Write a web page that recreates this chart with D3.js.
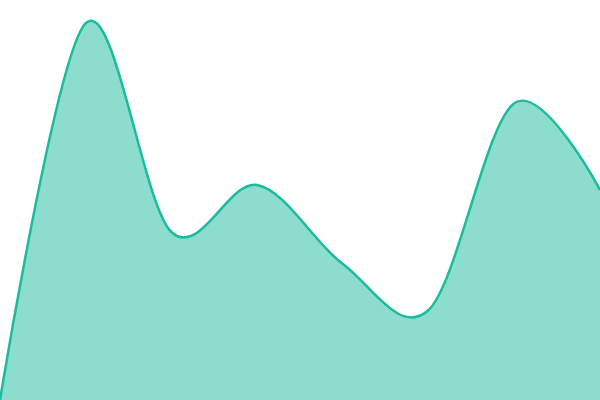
<!DOCTYPE html>
<html>
<head>
<meta charset="utf-8">
<script src="https://cdn.jsdelivr.net/npm/d3@7"></script>
<style>
  html, body { margin: 0; padding: 0; background: #fff; }
</style>
</head>
<body>
<script>
// chart values
var steps = [0, 1, 2, 3, 4, 5, 6, 7];
var values = [0, 94.2, 42, 53.75, 34, 22.5, 74.2, 52.5];

var width = 600, height = 400;

var svg = d3.select("body").append("svg")
  .attr("width", width)
  .attr("height", height);

var x = d3.scaleLinear().domain([0, 7]).range([0, width]);
var y = d3.scaleLinear().domain([0, 100]).range([height, 0]);

var data = steps.map(function(s, i) { return {step: s, value: values[i]}; });

var area = d3.area()
  .curve(d3.curveCardinal)
  .x(function(d) { return x(d.step); })
  .y0(height)
  .y1(function(d) { return y(d.value); });

var line = d3.line()
  .curve(d3.curveCardinal)
  .x(function(d) { return x(d.step); })
  .y(function(d) { return y(d.value); });

svg.append("path")
  .datum(data)
  .attr("fill", "#1abc9c")
  .attr("fill-opacity", 0.5)
  .attr("d", area);

svg.append("path")
  .datum(data)
  .attr("fill", "none")
  .attr("stroke", "#1abc9c")
  .attr("stroke-width", 2.5)
  .attr("d", line);
</script>
</body>
</html>
